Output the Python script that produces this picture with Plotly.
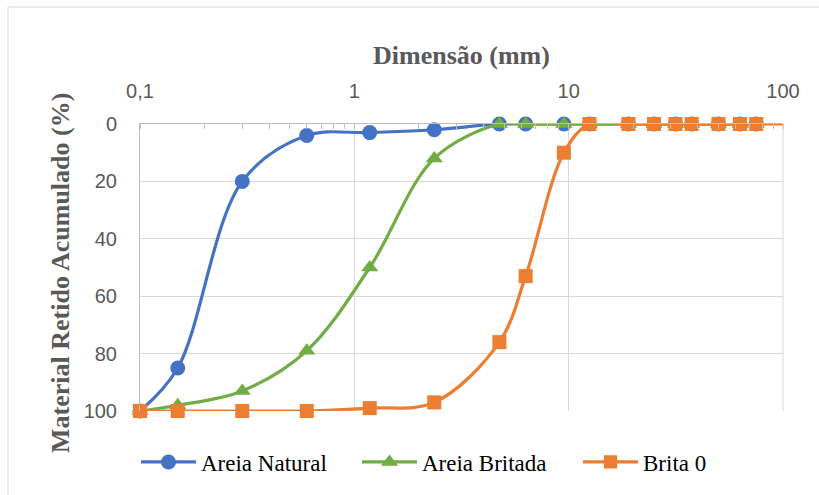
import plotly.graph_objects as go

# Sieve sizes (mm)
sizes = [0.1, 0.15, 0.3, 0.6, 1.18, 2.36, 4.75, 6.3, 9.5, 12.5, 19, 25, 31.5, 37.5, 50, 63, 75]
areia_natural = [100, 85, 20, 4, 3, 2, 0, 0, 0, 0, 0, 0, 0, 0, 0, 0, 0]
areia_britada = [100, 98, 93, 79, 50, 12, 0, 0, 0, 0, 0, 0, 0, 0, 0, 0, 0]
brita0_sizes = sizes + [100]
brita0 = [100, 100, 100, 100, 99, 97, 76, 53, 10, 0, 0, 0, 0, 0, 0, 0, 0, 0]

x_ticks = [0.1, 1, 10, 100]
x_tick_labels = ["0,1", "1", "10", "100"]
y_ticks = [0, 20, 40, 60, 80, 100]

names = ["Areia Natural", "Areia Britada", "Brita 0"]
colors = ["#4472C4", "#70AD47", "#ED7D31"]
symbols = ["circle", "triangle-up", "square"]
msizes = [15, 15, 14]
legend_ids = ["legend", "legend2", "legend3"]
legend_px = [141, 362, 583]

L, R, T, B = 140, 36, 124, 84
W, H = 819, 495
pw, ph = W - L - R, H - T - B

fig = go.Figure()
series = [(sizes, areia_natural), (sizes, areia_britada), (brita0_sizes, brita0)]
for i, (xs, ys) in enumerate(series):
    msize = [msizes[i]] * len(sizes) + [0] * (len(xs) - len(sizes))
    fig.add_trace(go.Scatter(
        x=xs, y=ys, name=names[i], mode="lines+markers",
        line=dict(color=colors[i], width=3.2, shape="spline", smoothing=1.0),
        marker=dict(color=colors[i], symbol=symbols[i], size=msize, opacity=1,
                    line=dict(width=0)),
        opacity=1, legend=legend_ids[i],
        cliponaxis=False,
    ))

tick_font = dict(family="Liberation Sans, Arial, sans-serif", size=20, color="#595959")
title_font = dict(family="Liberation Serif, Times New Roman, serif", size=26, color="#595959")
legend_font = dict(family="Liberation Serif, Times New Roman, serif", size=23, color="#000000")

legend_layout = {}
for i, lid in enumerate(legend_ids):
    legend_layout[lid] = dict(
        orientation="h", x=(legend_px[i] - 5 - L) / pw, xanchor="left",
        y=-(462 - (T + ph)) / ph, yanchor="middle",
        font=legend_font, itemwidth=55, bgcolor="rgba(0,0,0,0)",
    )

fig.update_layout(
    width=W, height=H,
    margin=dict(l=L, r=R, t=T, b=B, pad=0),
    paper_bgcolor="white", plot_bgcolor="white",
    showlegend=True,
    **legend_layout,
    xaxis=dict(type="log", range=[-1, 2], side="top",
               tickvals=x_ticks, ticktext=x_tick_labels,
               showgrid=True, gridcolor="#d9d9d9", gridwidth=1,
               showline=True, linecolor="#bfbfbf", linewidth=1, mirror=False,
               ticks="", tickfont=tick_font, ticklabelstandoff=17,
               minor=dict(ticks="inside", ticklen=5, tickcolor="#bfbfbf", dtick="D1", showgrid=False),
               zeroline=False),
    yaxis=dict(range=[100, 0], tickvals=y_ticks,
               showgrid=True, gridcolor="#d9d9d9", gridwidth=1,
               showline=True, linecolor="#bfbfbf", linewidth=1,
               ticks="", tickfont=tick_font, ticklabelstandoff=18,
               zeroline=False),
    shapes=[
        dict(type="line", xref="paper", yref="paper", x0=1, x1=1, y0=0, y1=1,
             line=dict(color="#d9d9d9", width=1)),
        dict(type="rect", xref="paper", yref="paper",
             x0=(8 - L) / pw, x1=(W + 20 - L) / pw,
             y0=(T + ph - (H + 20)) / ph, y1=(T + ph - 7) / ph,
             line=dict(color="#d9d9d9", width=1), fillcolor="rgba(0,0,0,0)", layer="below"),
    ],
    annotations=[
        dict(text="<b>Dimensão (mm)</b>", xref="paper", yref="paper",
             x=0.5, y=(T + ph - 56) / ph, xanchor="center", yanchor="middle",
             showarrow=False, font=title_font),
        dict(text="<b>Material Retido Acumulado (%)</b>", xref="paper", yref="paper",
             x=(60 - L) / pw, y=(T + ph - 273) / ph, xanchor="center", yanchor="middle",
             textangle=-90, showarrow=False, font=title_font),
    ],
)

fig.write_html("out.html")
